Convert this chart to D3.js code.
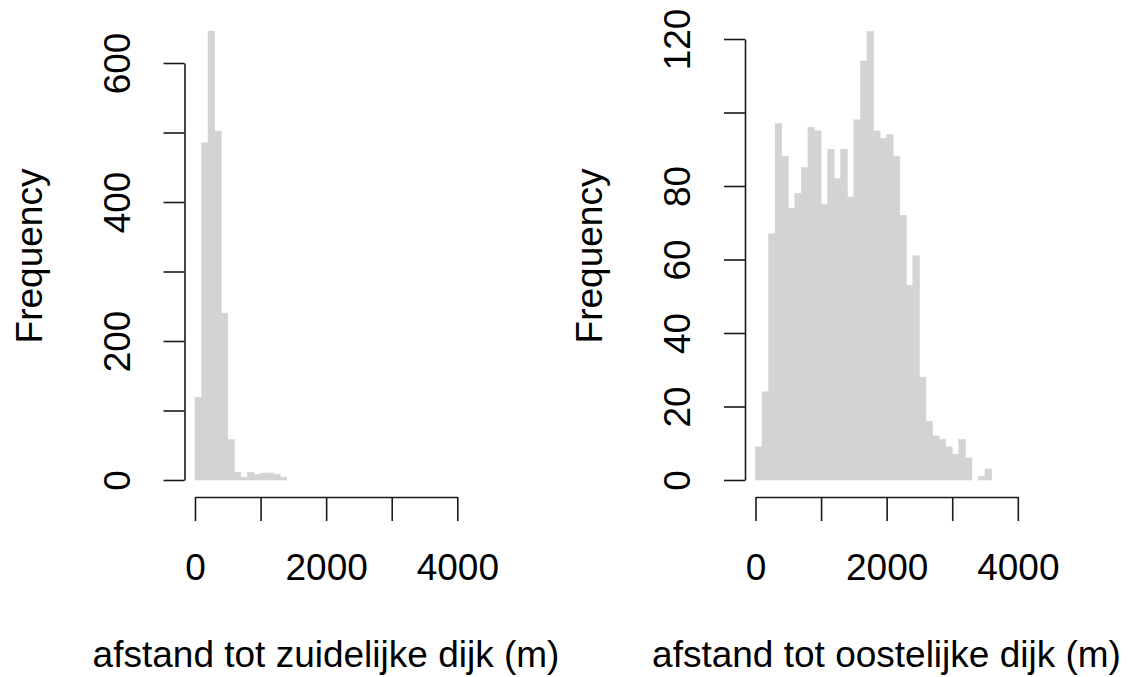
<!DOCTYPE html>
<html>
<head>
<meta charset="utf-8">
<script src="https://cdn.jsdelivr.net/npm/d3@7/dist/d3.min.js"></script>
<style>
  html, body { margin: 0; padding: 0; background: #fff; }
  svg { display: block; }
  text { font-family: "Liberation Sans", Arial, Helvetica, sans-serif; fill: #000; }
</style>
</head>
<body>
<svg id="chart" width="1134" height="677"></svg>
<script>
// ---- data ----
const binWidth = 100;
const leftCounts = [119, 485, 646, 502, 240, 58, 11, 4, 11, 8, 10, 10, 8, 4];
const rightCounts = [9, 24, 67, 97, 88, 74, 78, 85, 96, 95, 75, 90, 82, 90, 77, 98, 114, 122,
                     95, 93, 94, 88, 72, 53, 61, 28, 16, 12, 11, 9, 7, 11, 6, 0, 1, 3];
const xTicks = [0, 1000, 2000, 3000, 4000];
const xTickLabels = [0, 2000, 4000];
const leftYTicks = [0, 100, 200, 300, 400, 500, 600];
const leftYLabels = [0, 200, 400, 600];
const rightYTicks = [0, 20, 40, 60, 80, 100, 120];
const rightYLabels = [0, 20, 40, 60, 80, 120];
const leftTitle = "afstand tot zuidelijke dijk (m)";
const rightTitle = "afstand tot oostelijke dijk (m)";
const yTitle = "Frequency";

const svg = d3.select("#chart");
const FONT = 37;
const axisColor = "#1a1a1a";
const barColor = "#d3d3d3";

function panel(cfg) {
  const x = d3.scaleLinear().domain([0, 4000]).range([cfg.x0, cfg.x4000]);
  const y = d3.scaleLinear().domain([0, cfg.yMax]).range([480, cfg.yTop]);
  const g = svg.append("g");

  // bars
  const bins = cfg.counts.map((c, i) => ({ x0: i * binWidth, x1: (i + 1) * binWidth, c }));
  g.selectAll("rect.bar").data(bins.filter(d => d.c > 0)).join("rect")
    .attr("class", "bar")
    .attr("x", d => x(d.x0))
    .attr("width", d => x(d.x1) - x(d.x0))
    .attr("y", d => y(d.c))
    .attr("height", d => y(0) - y(d.c))
    .attr("fill", barColor)
    .attr("stroke", barColor)
    .attr("stroke-width", 0.6);

  // x axis
  const xa = g.append("g").attr("transform", "translate(0,497)")
    .call(d3.axisBottom(x).tickValues(xTicks).tickSize(24).tickSizeOuter(0)
      .tickFormat(d => xTickLabels.includes(d) ? String(d) : ""));
  xa.select(".domain").attr("stroke", axisColor).attr("stroke-width", 1.6);
  xa.selectAll(".tick line").attr("stroke", axisColor).attr("stroke-width", 1.6);
  xa.selectAll(".tick text").attr("y", 83).attr("dy", 0)
    .style("font-size", FONT + "px").attr("fill", "#000");

  // y axis
  const ya = g.append("g").attr("transform", `translate(${cfg.axisX},0)`)
    .call(d3.axisLeft(y).tickValues(cfg.yTicks).tickSize(21).tickSizeOuter(0)
      .tickFormat(d => cfg.yLabels.includes(d) ? String(d) : ""));
  ya.select(".domain").attr("stroke", axisColor).attr("stroke-width", 1.6);
  ya.selectAll(".tick line").attr("stroke", axisColor).attr("stroke-width", 1.6);
  ya.selectAll(".tick text")
    .attr("transform", "rotate(-90)")
    .attr("x", 0).attr("y", -55).attr("dy", 0)
    .attr("text-anchor", "middle")
    .style("font-size", FONT + "px").attr("fill", "#000");

  // titles
  g.append("text")
    .attr("x", cfg.titleX).attr("y", 667)
    .attr("text-anchor", "middle")
    .style("font-size", FONT + "px")
    .text(cfg.title);
  g.append("text")
    .attr("transform", `translate(${cfg.axisX - 143},256) rotate(-90)`)
    .attr("text-anchor", "middle")
    .style("font-size", FONT + "px")
    .text(yTitle);
}

panel({ counts: leftCounts, x0: 195, x4000: 457.3, axisX: 184.5, yMax: 600, yTop: 63,
        yTicks: leftYTicks, yLabels: leftYLabels, title: leftTitle, titleX: 326 });
panel({ counts: rightCounts, x0: 755.5, x4000: 1017.8, axisX: 745, yMax: 120, yTop: 39,
        yTicks: rightYTicks, yLabels: rightYLabels, title: rightTitle, titleX: 886.5 });
</script>
</body>
</html>
